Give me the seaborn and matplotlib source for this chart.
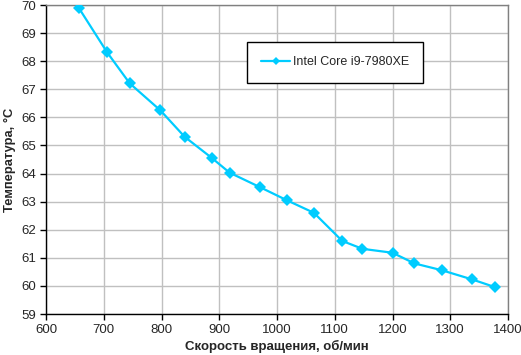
import matplotlib
matplotlib.use("Agg")
import matplotlib.pyplot as plt
import pandas as pd
import seaborn as sns

# Fan speed (rpm) vs CPU temperature (°C)
speed = [657, 706, 745, 798, 840, 888, 918, 970, 1017, 1064,
         1113, 1148, 1200, 1238, 1285, 1338, 1377]
temp = [69.89, 68.31, 67.21, 66.25, 65.31, 64.54, 64.03, 63.52, 63.05, 62.60,
        61.60, 61.32, 61.18, 60.80, 60.56, 60.23, 59.96]
series = "Intel Core i9-7980XE"

df = pd.DataFrame({"speed": speed, "temp": temp, "cpu": series})

sns.set_style("white")
plt.rcParams["font.family"] = ["Liberation Sans", "DejaVu Sans"]

fig = plt.figure(figsize=(5.21, 3.55), dpi=100)
ax = fig.add_axes([46 / 521, 1 - 314 / 355, 462 / 521, 309 / 355])

sns.lineplot(df, x="speed", y="temp", hue="cpu", palette=["#00ccff"],
             marker="D", markersize=6, markeredgewidth=0, linewidth=1.6,
             ax=ax, zorder=3)

ax.set_xlim(600, 1400)
ax.set_ylim(59, 70)
ax.set_xticks(range(600, 1401, 100))
ax.set_yticks(range(59, 71))
ax.grid(True, color="#c0c0c0", linewidth=1)
ax.set_axisbelow(True)

for side in ("top", "right"):
    ax.spines[side].set_color("#808080")
for side in ("left", "bottom"):
    ax.spines[side].set_color("black")
for s in ax.spines.values():
    s.set_linewidth(1)

ax.tick_params(axis="both", direction="out", length=4, width=1, color="black",
               labelsize=9.5, pad=3, left=True, bottom=True)

ax.set_xlabel("Скорость вращения, об/мин", fontsize=9.5, fontweight="bold", labelpad=3)
ax.set_ylabel("Температура, °C", fontsize=9.3, fontweight="bold", labelpad=4)

leg = ax.legend(loc="upper left", bbox_to_anchor=((247 - 46) / 462, 1 - (42 - 5) / 309),
                frameon=True, fancybox=False, fontsize=9, borderpad=1.15,
                handlelength=2.3, handletextpad=0.2, borderaxespad=0)
leg.get_frame().set_edgecolor("black")
leg.get_frame().set_linewidth(1)
leg.get_frame().set_alpha(1)
for h in leg.legend_handles:
    h.set_markersize(4.5)

fig.savefig("out.png", dpi=100)
